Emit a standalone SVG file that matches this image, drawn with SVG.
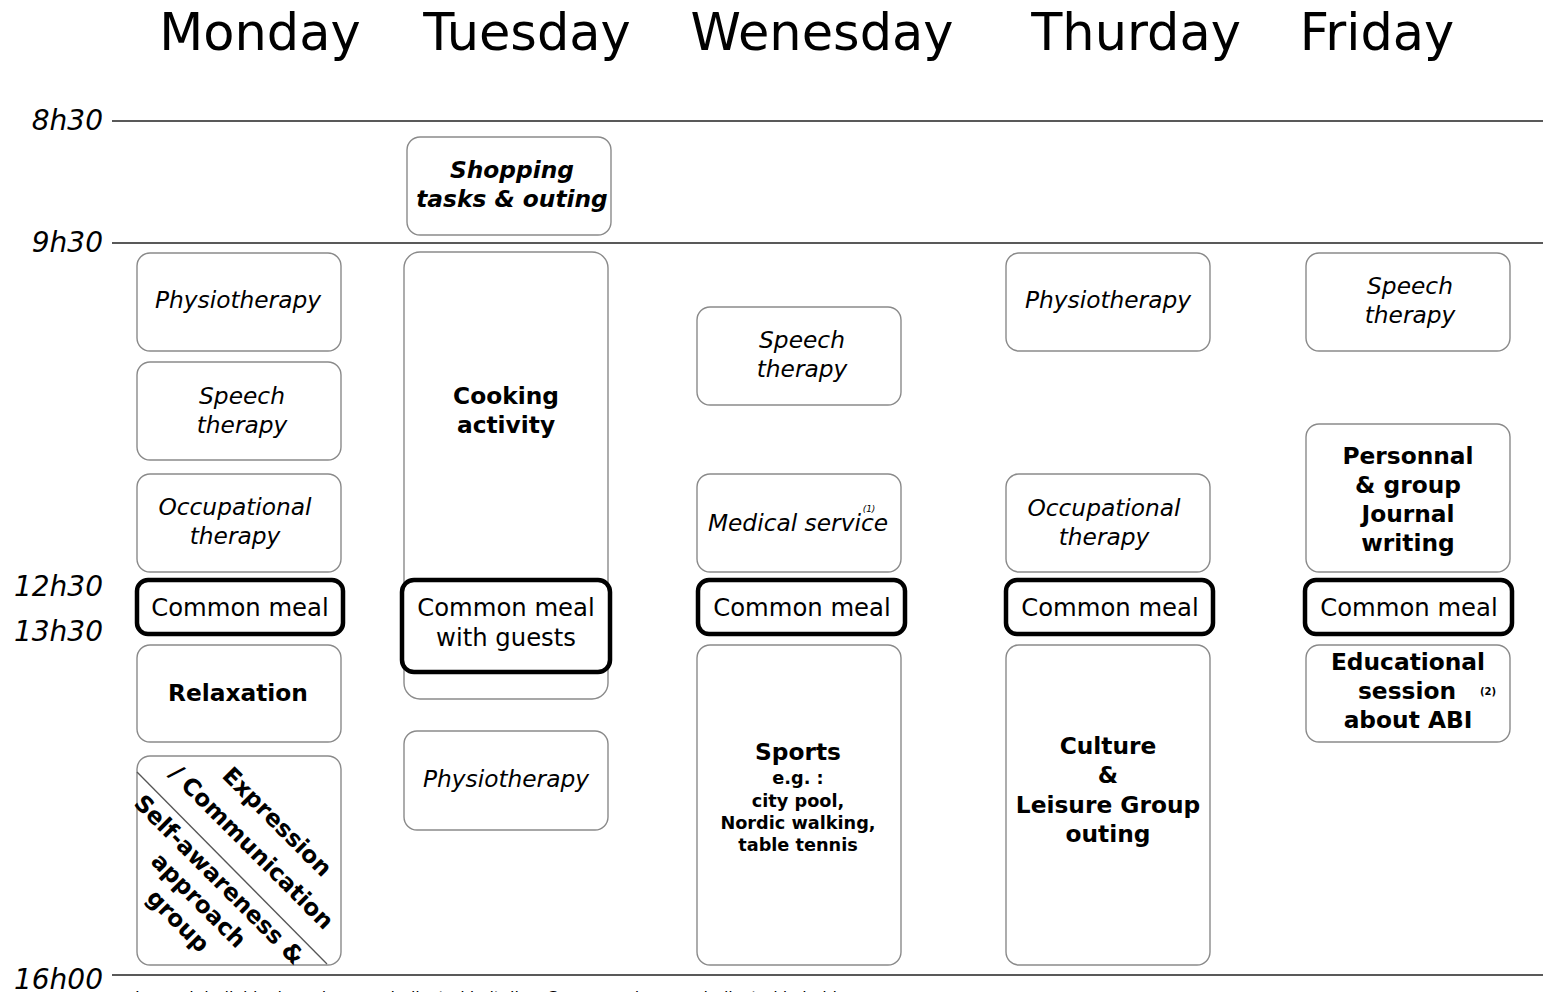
<svg xmlns="http://www.w3.org/2000/svg" width="1543" height="992" viewBox="0 0 1543 992">
<style>
text{font-family:"DejaVu Sans","Liberation Sans",sans-serif;fill:#000;text-anchor:middle}
.day{font-size:51px}
.time{font-size:28px;font-style:italic;text-anchor:end}
.it{font-size:23.3px;font-style:italic}
.b{font-size:23.3px;font-weight:bold}
.bi{font-size:23.3px;font-weight:bold;font-style:italic}
.meal{font-size:24.3px}
.sm{font-size:17.7px;font-weight:bold}
.box{fill:#fff;stroke:#8a8a8a;stroke-width:1.4}
.mealbox{fill:#fff;stroke:#000;stroke-width:4.5}
.hl{stroke:#222;stroke-width:1.5}
</style>
<rect width="1543" height="992" fill="#fff"/>
<g id="headers">
<text class="day" x="260" y="50">Monday</text>
<text class="day" x="527" y="50">Tuesday</text>
<text class="day" x="822" y="50">Wenesday</text>
<text class="day" x="1136" y="50">Thurday</text>
<text class="day" x="1377" y="50">Friday</text>
</g>
<g id="timeline">
<text class="time" x="103" y="130">8h30</text>
<text class="time" x="103" y="252">9h30</text>
<text class="time" x="103" y="596">12h30</text>
<text class="time" x="103" y="641">13h30</text>
<text class="time" x="103" y="989">16h00</text>
<line class="hl" x1="112" y1="121" x2="1543" y2="121"/>
<line class="hl" x1="112" y1="243" x2="1543" y2="243"/>
<line class="hl" x1="112" y1="975" x2="1543" y2="975"/>
<text x="135" y="1003" style="font-size:16px;text-anchor:start">Legend: individual sessions are indicated in italics. Group sessions are indicated in bold.</text>
</g>
<g id="connectors"></g>
<!-- Monday -->
<g id="mon-physio"><rect class="box" x="137" y="253" width="204" height="98" rx="13"/><text class="it" x="238" y="308">Physiotherapy</text></g>
<g id="mon-speech"><rect class="box" x="137" y="362" width="204" height="98" rx="13"/><text class="it" x="242" y="404">Speech</text><text class="it" x="242" y="433">therapy</text></g>
<g id="mon-occ"><rect class="box" x="137" y="474" width="204" height="98" rx="13"/><text class="it" x="235" y="515">Occupational</text><text class="it" x="235" y="544">therapy</text></g>
<g id="mon-meal"><rect class="mealbox" x="137" y="580" width="206" height="54" rx="11"/><text class="meal" x="240" y="616">Common meal</text></g>
<g id="mon-relax"><rect class="box" x="137" y="645" width="204" height="97" rx="13"/><text class="b" x="238" y="701">Relaxation</text></g>
<g id="mon-expr">
<rect class="box" x="137" y="756" width="204" height="209" rx="13"/>
<line x1="137" y1="772" x2="327" y2="964" stroke="#555" stroke-width="1.3"/>
<g transform="rotate(45)">
<text class="b" x="777" y="393">Expression</text>
<text class="b" x="777" y="429">/ Communication</text>
<text class="b" x="777" y="475">Self-awareness &amp;</text>
<text class="b" x="777" y="504">approach</text>
<text class="b" x="777" y="533">group</text>
</g>
</g>
<!-- Tuesday -->
<g id="tue-shop"><rect class="box" x="407" y="137" width="204" height="98" rx="13"/><text class="bi" x="512" y="178">Shopping</text><text class="bi" x="512" y="207">tasks &amp; outing</text></g>
<g id="tue-cook"><rect class="box" x="404" y="252" width="204" height="447" rx="16"/><text class="b" x="506" y="404">Cooking</text><text class="b" x="506" y="433">activity</text></g>
<g id="tue-meal"><rect class="mealbox" x="402" y="580" width="208" height="92" rx="12"/><text class="meal" x="506" y="616">Common meal</text><text class="meal" x="506" y="646">with guests</text></g>
<g id="tue-physio"><rect class="box" x="404" y="731" width="204" height="99" rx="13"/><text class="it" x="506" y="787">Physiotherapy</text></g>
<!-- Wednesday -->
<g id="wed-speech"><rect class="box" x="697" y="307" width="204" height="98" rx="13"/><text class="it" x="802" y="348">Speech</text><text class="it" x="802" y="377">therapy</text></g>
<g id="wed-med"><rect class="box" x="697" y="474" width="204" height="98" rx="13"/><text class="it" x="798" y="531">Medical service</text><text x="869" y="512" style="font-size:9px;font-style:italic">(1)</text></g>
<g id="wed-meal"><rect class="mealbox" x="698" y="580" width="207" height="54" rx="11"/><text class="meal" x="802" y="616">Common meal</text></g>
<g id="wed-sports"><rect class="box" x="697" y="645" width="204" height="320" rx="13"/><text class="b" x="798" y="760">Sports</text><text class="sm" x="798" y="784">e.g. :</text><text class="sm" x="798" y="807">city pool,</text><text class="sm" x="798" y="829">Nordic walking,</text><text class="sm" x="798" y="851">table tennis</text></g>
<!-- Thursday -->
<g id="thu-physio"><rect class="box" x="1006" y="253" width="204" height="98" rx="13"/><text class="it" x="1108" y="308">Physiotherapy</text></g>
<g id="thu-occ"><rect class="box" x="1006" y="474" width="204" height="98" rx="13"/><text class="it" x="1104" y="516">Occupational</text><text class="it" x="1104" y="545">therapy</text></g>
<g id="thu-meal"><rect class="mealbox" x="1006" y="580" width="207" height="54" rx="11"/><text class="meal" x="1110" y="616">Common meal</text></g>
<g id="thu-culture"><rect class="box" x="1006" y="645" width="204" height="320" rx="13"/><text class="b" x="1108" y="754">Culture</text><text class="b" x="1108" y="783">&amp;</text><text class="b" x="1108" y="813">Leisure Group</text><text class="b" x="1108" y="842">outing</text></g>
<!-- Friday -->
<g id="fri-speech"><rect class="box" x="1306" y="253" width="204" height="98" rx="13"/><text class="it" x="1410" y="294">Speech</text><text class="it" x="1410" y="323">therapy</text></g>
<g id="fri-journal"><rect class="box" x="1306" y="424" width="204" height="148" rx="13"/><text class="b" x="1408" y="464">Personnal</text><text class="b" x="1408" y="493">&amp; group</text><text class="b" x="1408" y="522">Journal</text><text class="b" x="1408" y="551">writing</text></g>
<g id="fri-meal"><rect class="mealbox" x="1305" y="580" width="207" height="54" rx="11"/><text class="meal" x="1409" y="616">Common meal</text></g>
<g id="fri-edu"><rect class="box" x="1306" y="645" width="204" height="97" rx="13"/><text class="b" x="1408" y="670">Educational</text><text class="b" x="1407" y="699">session</text><text class="b" x="1408" y="728">about ABI</text><text x="1488" y="695" style="font-size:10px;font-weight:bold">(2)</text></g>
</svg>
